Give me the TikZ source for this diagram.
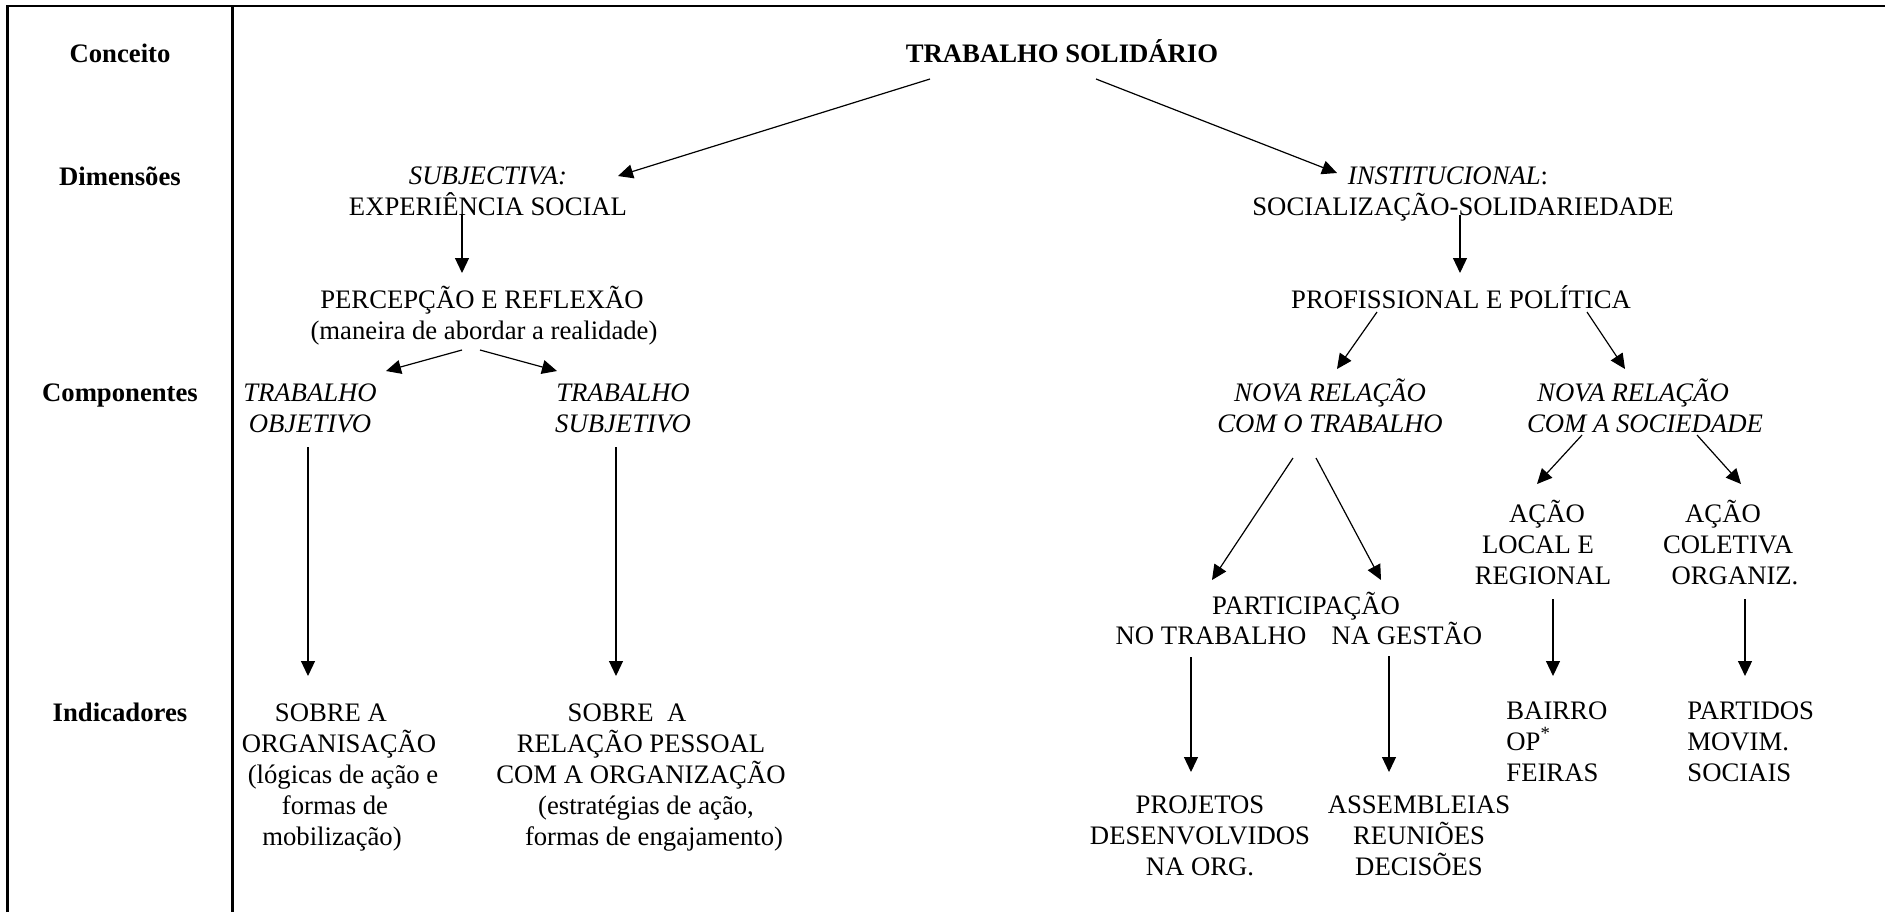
\documentclass[tikz,border=0pt]{standalone}
\usepackage{fontspec}
\setmainfont{Liberation Serif}
\usetikzlibrary{arrows.meta}
\newcommand{\ml}[1]{\vtop{\let\\\cr\halign{\hfil##\hfil\cr#1\crcr}}}
\newcommand{\mll}[1]{\vtop{\let\\\cr\halign{##\hfil\cr#1\crcr}}}
\newcommand{\sh}[2]{\hspace*{#1}#2\hspace*{-#1}}
\begin{document}
\begin{tikzpicture}[x=0.5pt,y=-0.5pt,
  txt/.style={inner sep=0pt, anchor=base, font=\fontsize{13.35pt}{15.6pt}\selectfont},
  lbl/.style={txt, font=\fontsize{13.35pt}{15.6pt}\selectfont\bfseries},
  arr/.style={-{Triangle[length=7.5pt,width=7pt]}, line width=0.6pt},
  frame/.style={line width=1.2pt, line join=miter}]
\useasboundingbox (0,0) rectangle (1885,912);
% frame
\coordinate (fbl) at (7.5,912); \coordinate (ftl) at (7.5,6); \coordinate (ftr) at (1885,6);
\coordinate (fdt) at (232.5,6); \coordinate (fdb) at (232.5,912);
\draw[frame] (fbl) -- (ftl) -- (ftr);
\draw[frame] (fdt) -- (fdb);
% row labels
\node[lbl] (conc) at (120,62) {Conceito};
\node[lbl] (dim) at (120,185) {Dimensões};
\node[lbl] (comp) at (120,401) {Componentes};
\node[lbl] (indic) at (120,721) {Indicadores};
% tree nodes
\node[lbl] (ts) at (1062,62) {TRABALHO SOLIDÁRIO};
\node[txt] (subj) at (488,184) {\ml{\textit{SUBJECTIVA:}\\EXPERIÊNCIA SOCIAL}};
\node[txt] (inst) at (1463,184) {\ml{\sh{-7.5pt}{\textit{INSTITUCIONAL}:}\\SOCIALIZAÇÃO-SOLIDARIEDADE}};
\node[txt] (perc) at (487,308) {\ml{\sh{-2.5pt}{PERCEPÇÃO E REFLEXÃO}\\\sh{-1.5pt}{(maneira de abordar a realidade)}}};
\node[txt] (prof) at (1461,308) {PROFISSIONAL E POLÍTICA};
\node[txt] (tobj) at (310,401) {\ml{\textit{TRABALHO}\\\textit{OBJETIVO}}};
\node[txt] (tsub) at (623,401) {\ml{\textit{TRABALHO}\\\textit{SUBJETIVO}}};
\node[txt] (nrt) at (1330,401) {\ml{\textit{NOVA RELAÇÃO}\\\textit{COM O TRABALHO}}};
\node[txt] (nrs) at (1640,401) {\ml{\sh{-3.5pt}{\textit{NOVA RELAÇÃO}}\\\sh{2.5pt}{\textit{COM A SOCIEDADE}}}};
\node[txt] (al) at (1543,522) {\ml{\sh{2pt}{AÇÃO}\\\sh{-2.5pt}{LOCAL E}\\REGIONAL}};
\node[txt] (ac) at (1728,522) {\ml{\sh{-2.5pt}{AÇÃO}\\COLETIVA\\\sh{3.5pt}{ORGANIZ.}}};
\node[txt] (part) at (1306,614) {PARTICIPAÇÃO};
\node[txt] (pnt) at (1211,644) {NO TRABALHO};
\node[txt] (png) at (1407,644) {NA GESTÃO};
\node[txt] (ind1) at (339,721) {\ml{\sh{-4pt}{SOBRE A}\\ORGANISAÇÃO\\\sh{2pt}{(lógicas de ação e}\\\sh{-2pt}{formas de}\\\sh{-3.5pt}{mobilização)}}};
\node[txt] (ind2) at (641,721) {\ml{\sh{-7pt}{SOBRE\ \ A}\\RELAÇÃO PESSOAL\\COM A ORGANIZAÇÃO\\\sh{2.5pt}{(estratégias de ação,}\\\sh{6.5pt}{formas de engajamento)}}};
\node[txt, anchor=base west] (bairro) at (1506,719) {\mll{BAIRRO\\OP\smash{\textsuperscript{*}}\\FEIRAS}};
\node[txt, anchor=base west] (partidos) at (1687,719) {\mll{PARTIDOS\\MOVIM.\\SOCIAIS}};
\node[txt] (proj) at (1200,813) {\ml{PROJETOS\\DESENVOLVIDOS\\NA ORG.}};
\node[txt] (assem) at (1419,813) {\ml{ASSEMBLEIAS\\REUNIÕES\\DECISÕES}};
% connector end points
\coordinate (ts-l) at (930,79);     \coordinate (subj-in) at (618,176);
\coordinate (ts-r) at (1096,79);    \coordinate (inst-in) at (1337,173);
\coordinate (subj-out) at (462,215); \coordinate (perc-in) at (462,273);
\coordinate (perc-l) at (462,350);  \coordinate (tobj-in) at (386,371);
\coordinate (perc-r) at (480,350);  \coordinate (tsub-in) at (557,371);
\coordinate (tobj-out) at (308,447); \coordinate (ind1-in) at (308,676);
\coordinate (tsub-out) at (616,447); \coordinate (ind2-in) at (616,676);
\coordinate (inst-out) at (1460,215); \coordinate (prof-in) at (1460,273);
\coordinate (prof-l) at (1377,312); \coordinate (nrt-in) at (1337,369);
\coordinate (prof-r) at (1587,312); \coordinate (nrs-in) at (1625,369);
\coordinate (nrt-l) at (1293,458);  \coordinate (pnt-in) at (1212,580);
\coordinate (nrt-r) at (1316,458);  \coordinate (png-in) at (1381,580);
\coordinate (nrs-l) at (1582,435);  \coordinate (al-in) at (1537,484);
\coordinate (nrs-r) at (1697,435);  \coordinate (ac-in) at (1741,484);
\coordinate (pnt-out) at (1191,657); \coordinate (proj-in) at (1191,772);
\coordinate (png-out) at (1389,656); \coordinate (assem-in) at (1389,772);
\coordinate (al-out) at (1553,599); \coordinate (bairro-in) at (1553,676);
\coordinate (ac-out) at (1745,599); \coordinate (partidos-in) at (1745,676);
% connectors
\draw[arr] (ts-l) -- (subj-in);
\draw[arr] (ts-r) -- (inst-in);
\draw[arr] (subj-out) -- (perc-in);
\draw[arr] (perc-l) -- (tobj-in);
\draw[arr] (perc-r) -- (tsub-in);
\draw[arr] (tobj-out) -- (ind1-in);
\draw[arr] (tsub-out) -- (ind2-in);
\draw[arr] (inst-out) -- (prof-in);
\draw[arr] (prof-l) -- (nrt-in);
\draw[arr] (prof-r) -- (nrs-in);
\draw[arr] (nrt-l) -- (pnt-in);
\draw[arr] (nrt-r) -- (png-in);
\draw[arr] (nrs-l) -- (al-in);
\draw[arr] (nrs-r) -- (ac-in);
\draw[arr] (pnt-out) -- (proj-in);
\draw[arr] (png-out) -- (assem-in);
\draw[arr] (al-out) -- (bairro-in);
\draw[arr] (ac-out) -- (partidos-in);
\end{tikzpicture}
\end{document}
